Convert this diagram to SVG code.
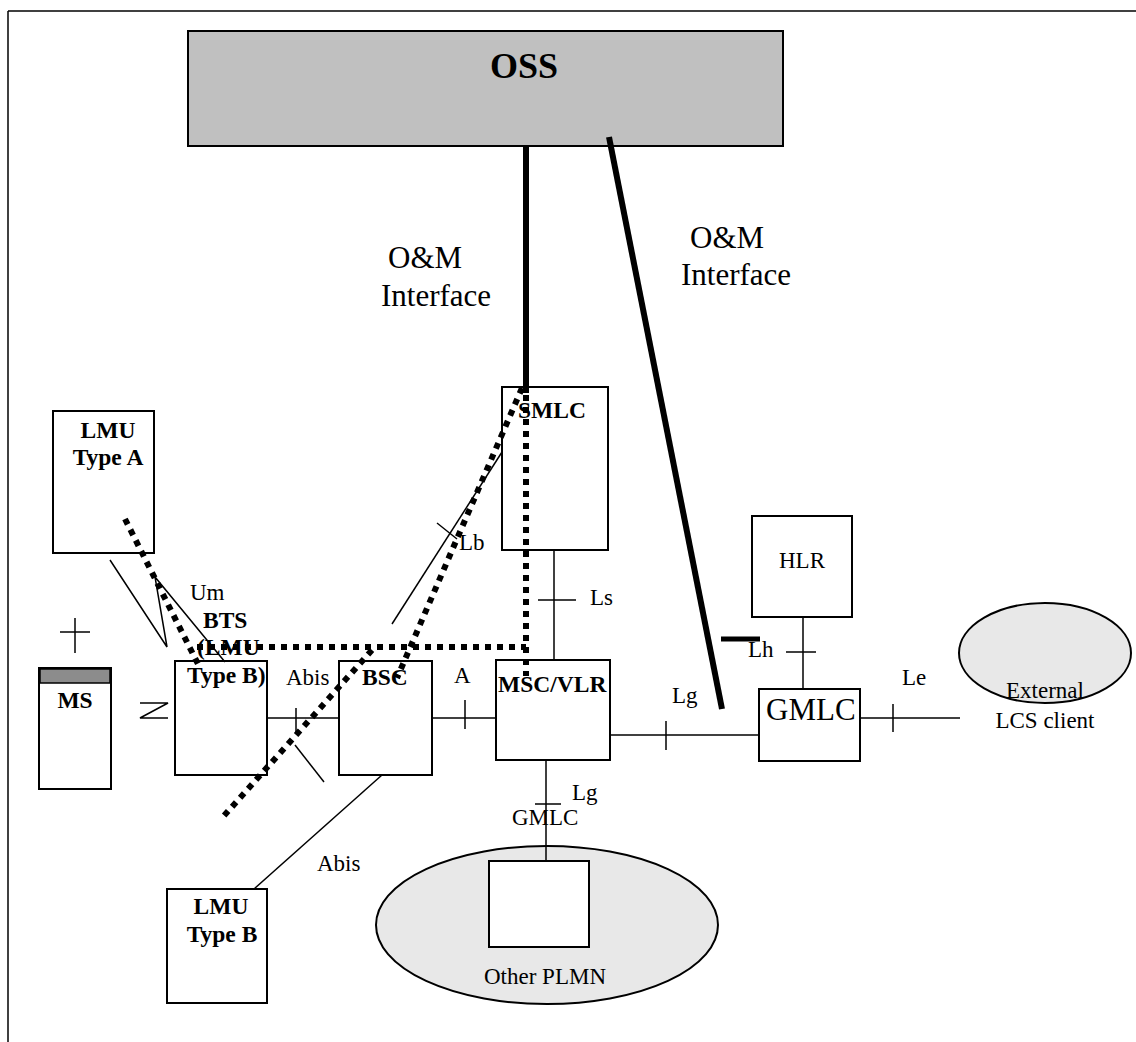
<svg xmlns="http://www.w3.org/2000/svg" width="1136" height="1042" viewBox="0 0 1136 1042">
<style>
text{font-family:"Liberation Serif","Times New Roman",serif;fill:#000}
.b{font-weight:bold;font-size:23.5px}
.r{font-size:23px}
.big{font-size:31px}
.box{fill:#fff;stroke:#000;stroke-width:2}
.ln{stroke:#000;stroke-width:1.5;fill:none}
.thick{stroke:#000;stroke-width:6;fill:none}
.dot{stroke:#000;stroke-width:6;stroke-dasharray:6 6;fill:none}
</style>
<rect width="1136" height="1042" fill="#fff"/>
<g id="frame">
<line class="ln" x1="8" y1="11" x2="1136" y2="11"/>
<line class="ln" x1="8" y1="11" x2="8" y2="1042"/>
</g>
<g id="oss">
<rect x="188" y="31" width="595" height="115" fill="#c0c0c0" stroke="#000" stroke-width="2"/>
<text x="524" y="78" text-anchor="middle" font-weight="bold" font-size="36">OSS</text>
</g>
<g id="lmu-a">
<rect class="box" x="53" y="411" width="101" height="142"/>
<text class="b" x="108" y="438" text-anchor="middle">LMU</text>
<text class="b" x="108" y="465" text-anchor="middle">Type A</text>
</g>
<g id="ms">
<rect class="box" x="39" y="668" width="72" height="121"/>
<rect x="40" y="669" width="70" height="14" fill="#8c8c8c" stroke="#000" stroke-width="1.5"/>
<text class="b" x="75" y="708" text-anchor="middle">MS</text>
</g>
<g id="bts">
<rect class="box" x="175" y="661" width="92" height="114"/>
</g>
<g id="bsc">
<rect class="box" x="339" y="661" width="93" height="114"/>
<text class="b" x="362" y="685">BSC</text>
</g>
<g id="smlc">
<rect class="box" x="502" y="387" width="106" height="163"/>
<text class="b" x="518" y="418">SMLC</text>
</g>
<g id="msc">
<rect class="box" x="496" y="660" width="114" height="100"/>
<text class="b" x="498" y="692">MSC/VLR</text>
</g>
<g id="hlr">
<rect class="box" x="752" y="516" width="100" height="101"/>
<text class="r" x="802" y="568" text-anchor="middle">HLR</text>
</g>
<g id="gmlc">
<rect class="box" x="759" y="689" width="101" height="72"/>
<text class="big" x="766" y="720">GMLC</text>
</g>
<g id="external">
<ellipse cx="1045" cy="653" rx="86" ry="50" fill="#e8e8e8" stroke="#000" stroke-width="2"/>
<text class="r" x="1045" y="698" text-anchor="middle">External</text>
<text class="r" x="1045" y="728" text-anchor="middle">LCS client</text>
</g>
<g id="other-plmn">
<ellipse cx="547" cy="925" rx="171" ry="79" fill="#e8e8e8" stroke="#000" stroke-width="2"/>
<rect class="box" x="489" y="861" width="100" height="86"/>
<text class="r" x="545" y="984" text-anchor="middle">Other PLMN</text>
</g>
<g id="lmu-b">
<rect class="box" x="167" y="889" width="100" height="114"/>
<text class="b" x="221" y="914" text-anchor="middle">LMU</text>
<text class="b" x="222" y="942" text-anchor="middle">Type B</text>
</g>
<g id="connectors">
<line class="thick" x1="526" y1="146" x2="526" y2="393"/>
<line class="thick" x1="609" y1="137" x2="722" y2="709" stroke-width="5"/>
<line x1="721" y1="639" x2="760" y2="639" stroke="#000" stroke-width="5"/>
<polyline class="ln" points="110,560 167,647 155,577 225,662"/>
<line class="ln" x1="75" y1="618" x2="75" y2="653"/>
<line class="ln" x1="60" y1="632" x2="90" y2="632"/>
<polyline class="ln" points="140,703 168,703 140,718 168,718"/>
<line class="ln" x1="267" y1="718" x2="339" y2="718"/>
<line class="ln" x1="296" y1="708" x2="296" y2="733"/>
<line class="ln" x1="295" y1="745" x2="324" y2="782"/>
<line class="ln" x1="432" y1="718" x2="496" y2="718"/>
<line class="ln" x1="465" y1="700" x2="465" y2="729"/>
<line class="ln" x1="382" y1="775" x2="254" y2="889"/>
<line class="ln" x1="502" y1="452" x2="392" y2="624"/>
<line class="ln" x1="437" y1="523" x2="457" y2="539"/>
<line class="ln" x1="554" y1="550" x2="554" y2="660"/>
<line class="ln" x1="538" y1="600" x2="576" y2="600"/>
<line class="ln" x1="610" y1="735" x2="759" y2="735"/>
<line class="ln" x1="666" y1="721" x2="666" y2="750"/>
<line class="ln" x1="546" y1="760" x2="546" y2="861"/>
<line class="ln" x1="535" y1="804" x2="561" y2="804"/>
<line class="ln" x1="803" y1="617" x2="803" y2="689"/>
<line class="ln" x1="786" y1="652" x2="816" y2="652"/>
<line class="ln" x1="860" y1="718" x2="960" y2="718"/>
<line class="ln" x1="893" y1="704" x2="893" y2="732"/>
<line class="dot" x1="125" y1="519" x2="199" y2="666"/>
<line class="dot" x1="197" y1="647" x2="526" y2="647"/>
<line class="dot" x1="526" y1="395" x2="526" y2="676"/>
<line class="dot" x1="522" y1="388" x2="397" y2="678"/>
<line class="dot" x1="372" y1="650" x2="222" y2="818"/>
</g>
<g id="labels">
<text class="big" x="388" y="268">O&amp;M</text>
<text class="big" x="381" y="306">Interface</text>
<text class="big" x="690" y="248">O&amp;M</text>
<text class="big" x="681" y="285">Interface</text>
<text class="r" x="190" y="600">Um</text>
<text class="b" x="203" y="628">BTS</text>
<text class="b" x="197" y="655">(LMU</text>
<text class="b" x="187" y="683">Type B)</text>
<text class="r" x="286" y="685">Abis</text>
<text class="r" x="454" y="683">A</text>
<text class="r" x="459" y="550">Lb</text>
<text class="r" x="590" y="605">Ls</text>
<text class="r" x="672" y="703">Lg</text>
<text class="r" x="748" y="657">Lh</text>
<text class="r" x="902" y="685">Le</text>
<text class="r" x="572" y="800">Lg</text>
<text class="r" x="512" y="825">GMLC</text>
<text class="r" x="317" y="871">Abis</text>
</g>
</svg>
